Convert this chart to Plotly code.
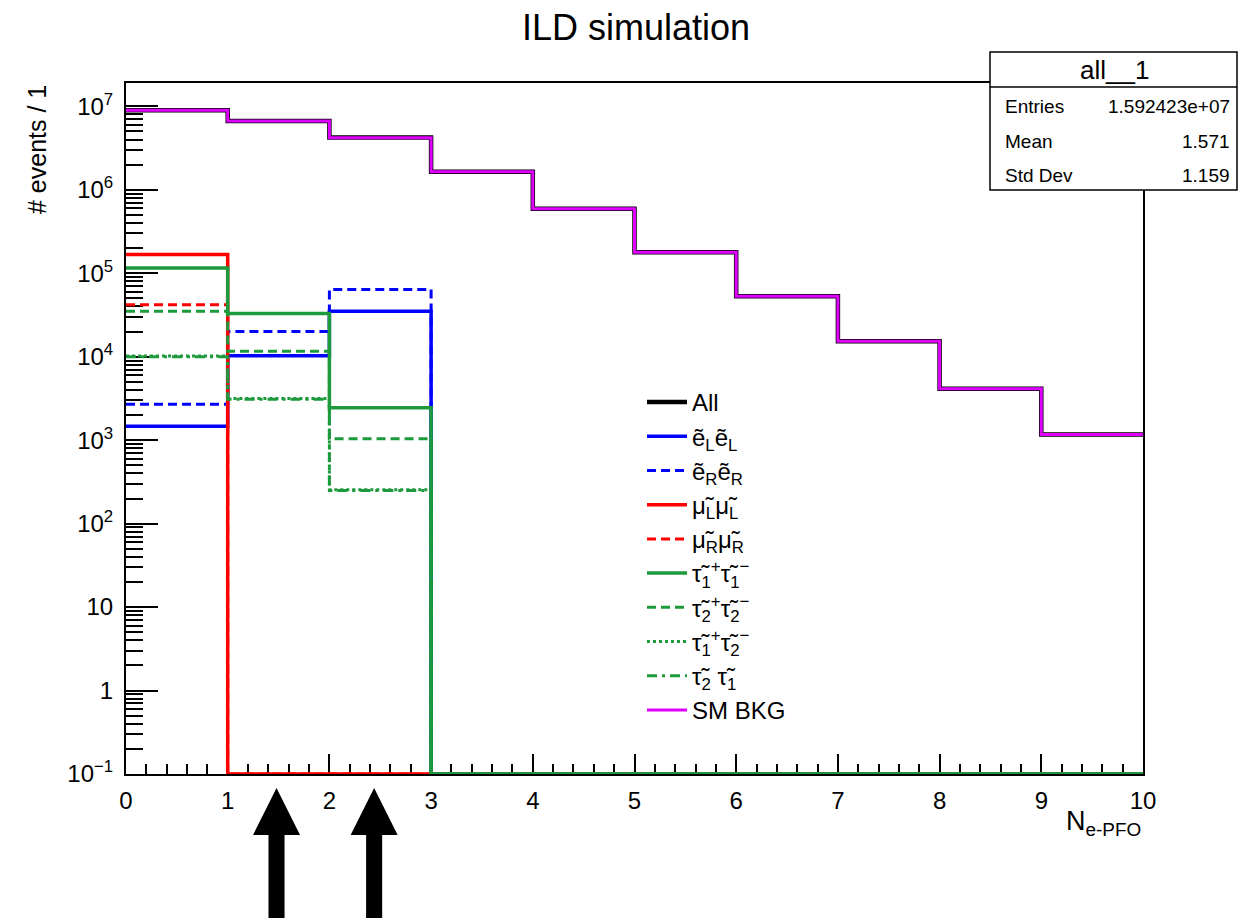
import plotly.graph_objects as go

# ---------------------------------------------------------------------------
# Histogram content: number of electron PFOs per event (bins of width 1)
# ---------------------------------------------------------------------------
bin_edges = [0, 1, 2, 3, 4, 5, 6, 7, 8, 9, 10]

all_events = [9.0e6, 6.7e6, 4.25e6, 1.65e6, 5.93e5, 1.79e5, 5.31e4, 1.53e4, 4.12e3, 1.17e3]
sel_LL = [1.47e3, 1.03e4, 3.5e4, 0, 0, 0, 0, 0, 0, 0]
ser_RR = [2.7e3, 2.0e4, 6.4e4, 0, 0, 0, 0, 0, 0, 0]
smu_LL = [1.68e5, 0, 0, 0, 0, 0, 0, 0, 0, 0]
smu_RR = [4.2e4, 0, 0, 0, 0, 0, 0, 0, 0, 0]
stau_11 = [1.16e5, 3.3e4, 2.44e3, 0, 0, 0, 0, 0, 0, 0]
stau_22 = [3.5e4, 1.16e4, 1.04e3, 0, 0, 0, 0, 0, 0, 0]
stau_12 = [1.02e4, 3.15e3, 255, 0, 0, 0, 0, 0, 0, 0]
stau_21 = [1.0e4, 3.1e3, 250, 0, 0, 0, 0, 0, 0, 0]
sm_bkg = [8.96e6, 6.67e6, 4.22e6, 1.65e6, 5.93e5, 1.79e5, 5.31e4, 1.53e4, 4.12e3, 1.17e3]

series_names = [
    "All",
    "ẽ<sub>L</sub>ẽ<sub>L</sub>",
    "ẽ<sub>R</sub>ẽ<sub>R</sub>",
    "μ̃<sub>L</sub>μ̃<sub>L</sub>",
    "μ̃<sub>R</sub>μ̃<sub>R</sub>",
    "τ̃<sub>1</sub><sup>+</sup>τ̃<sub>1</sub><sup>−</sup>",
    "τ̃<sub>2</sub><sup>+</sup>τ̃<sub>2</sub><sup>−</sup>",
    "τ̃<sub>1</sub><sup>+</sup>τ̃<sub>2</sub><sup>−</sup>",
    "τ̃<sub>2</sub> τ̃<sub>1</sub>",
    "SM BKG",
]
series_values = [all_events, sel_LL, ser_RR, smu_LL, smu_RR,
                 stau_11, stau_22, stau_12, stau_21, sm_bkg]

y_tick_vals = [1e-1, 1, 10, 1e2, 1e3, 1e4, 1e5, 1e6, 1e7]
y_tick_text = ["10<sup>−1</sup>", "1", "10", "10<sup>2</sup>", "10<sup>3</sup>",
               "10<sup>4</sup>", "10<sup>5</sup>", "10<sup>6</sup>", "10<sup>7</sup>"]

stats_title = "all__1"
stats_rows = [("Entries", "1.592423e+07"), ("Mean", "1.571"), ("Std Dev", "1.159")]

arrow_bins = [1.48, 2.44]

# ---------------------------------------------------------------------------
# Styling
# ---------------------------------------------------------------------------
GREEN = "#1c9a3c"
styles = [
    dict(color="black", width=4.5, dash="solid"),
    dict(color="#0000ff", width=3.5, dash="solid"),
    dict(color="#0000ff", width=3, dash="9px,5px"),
    dict(color="#ff0000", width=3.5, dash="solid"),
    dict(color="#ff0000", width=3, dash="9px,5px"),
    dict(color=GREEN, width=3.5, dash="solid"),
    dict(color=GREEN, width=3, dash="9px,5px"),
    dict(color=GREEN, width=3, dash="3px,3px"),
    dict(color=GREEN, width=3, dash="10px,5px,3px,5px"),
    dict(color="#e000ff", width=3, dash="solid"),
]

FONT = "Liberation Sans, Arial, Helvetica, sans-serif"
W, H = 1239, 920
ML, MR, MT, MB = 126, 96, 83, 146
Y_MIN_LOG, Y_MAX_LOG = -1.0, 7.28
Y_FLOOR = 10 ** Y_MIN_LOG  # empty bins are drawn on the frame floor


def px_x(p):
    return (p - ML) / (W - ML - MR)


def px_y(p):
    return (H - MB - p) / (H - MT - MB)


fig = go.Figure()

for name, vals, st in zip(series_names, series_values, styles):
    yv = [v if v > 0 else Y_FLOOR for v in vals]
    fig.add_trace(go.Scatter(
        x=bin_edges,
        y=yv + [yv[-1]],
        mode="lines",
        line=dict(shape="hv", **st),
        name=name,
        hoverinfo="skip",
    ))

minor_y = [m * 10 ** e for e in range(-1, 8) for m in range(2, 10)
           if m * 10 ** e < 10 ** Y_MAX_LOG]

fig.update_xaxes(
    range=[0, 10],
    showgrid=False, zeroline=False,
    showline=True, linecolor="black", linewidth=2, mirror=True,
    ticks="inside", ticklen=20, tickwidth=1.5, tickcolor="black",
    tickmode="linear", tick0=0, dtick=1,
    minor=dict(ticks="inside", ticklen=10, tickwidth=1.5, tickcolor="black",
               dtick=0.2, showgrid=False),
    tickfont=dict(family=FONT, size=24, color="black"),
    ticklabelstandoff=4,
    layer="below traces",
)
fig.update_yaxes(
    type="log",
    range=[Y_MIN_LOG, Y_MAX_LOG],
    showgrid=False, zeroline=False,
    showline=True, linecolor="black", linewidth=2, mirror=True,
    ticks="inside", ticklen=32, tickwidth=1.5, tickcolor="black",
    tickmode="array", tickvals=y_tick_vals, ticktext=y_tick_text,
    minor=dict(ticks="inside", ticklen=17, tickwidth=1.5, tickcolor="black",
               tickmode="array", tickvals=minor_y, showgrid=False),
    tickfont=dict(family=FONT, size=24, color="black"),
    ticklabelstandoff=6,
    layer="below traces",
)

shapes = []
# arrows below the axis marking the selected bins
y_tip, y_base, y_end = px_y(788), px_y(835), px_y(918)
hw_head, hw_shaft = 0.231, 0.079
for xc in arrow_bins:
    path = (f"M {xc},{y_tip} L {xc + hw_head},{y_base} L {xc + hw_shaft},{y_base} "
            f"L {xc + hw_shaft},{y_end} L {xc - hw_shaft},{y_end} "
            f"L {xc - hw_shaft},{y_base} L {xc - hw_head},{y_base} Z")
    shapes.append(dict(type="path", path=path, xref="x", yref="paper",
                       fillcolor="black", line=dict(width=0), layer="above"))

# statistics box
bx0, bx1, by0, by1 = px_x(990), px_x(1237), px_y(190), px_y(52)
shapes.append(dict(type="rect", xref="paper", yref="paper",
                   x0=bx0, x1=bx1, y0=by0, y1=by1,
                   fillcolor="white", line=dict(color="black", width=1.5), layer="above"))
shapes.append(dict(type="line", xref="paper", yref="paper",
                   x0=bx0, x1=bx1, y0=px_y(87), y1=px_y(87),
                   line=dict(color="black", width=1.5), layer="above"))

annotations = [
    dict(text=stats_title, x=px_x(1114), y=px_y(70), xref="paper", yref="paper",
         xanchor="center", yanchor="middle", showarrow=False,
         font=dict(family=FONT, size=26, color="black")),
    dict(text="# events / 1", x=px_x(37), y=px_y(150), xref="paper", yref="paper",
         xanchor="center", yanchor="middle", textangle=-90, showarrow=False,
         font=dict(family=FONT, size=25, color="black")),
    dict(text="N<sub>e-PFO</sub>", x=px_x(1143), y=px_y(823), xref="paper", yref="paper",
         xanchor="right", yanchor="middle", showarrow=False,
         font=dict(family=FONT, size=27, color="black")),
]
for i, (label, value) in enumerate(stats_rows):
    yc = px_y([107, 141, 175][i])
    annotations.append(dict(text=label, x=px_x(1003), y=yc, xref="paper", yref="paper",
                            xanchor="left", yanchor="middle", showarrow=False,
                            font=dict(family=FONT, size=19, color="black")))
    annotations.append(dict(text=value, x=px_x(1232), y=yc, xref="paper", yref="paper",
                            xanchor="right", yanchor="middle", showarrow=False,
                            font=dict(family=FONT, size=19, color="black")))

fig.update_layout(
    width=W, height=H,
    margin=dict(l=ML, r=MR, t=MT, b=MB, pad=0),
    paper_bgcolor="white", plot_bgcolor="white",
    title=dict(text="ILD simulation", x=636 / W, y=1 - 27 / H,
               xanchor="center", yanchor="middle",
               font=dict(family=FONT, size=36, color="black")),
    showlegend=True,
    legend=dict(x=px_x(642), y=px_y(380), xanchor="left", yanchor="top",
                bgcolor="rgba(0,0,0,0)", borderwidth=0,
                font=dict(family=FONT, size=24, color="black"),
                itemwidth=40, tracegroupgap=0),
    shapes=shapes,
    annotations=annotations,
)

fig.write_html("out.html")
